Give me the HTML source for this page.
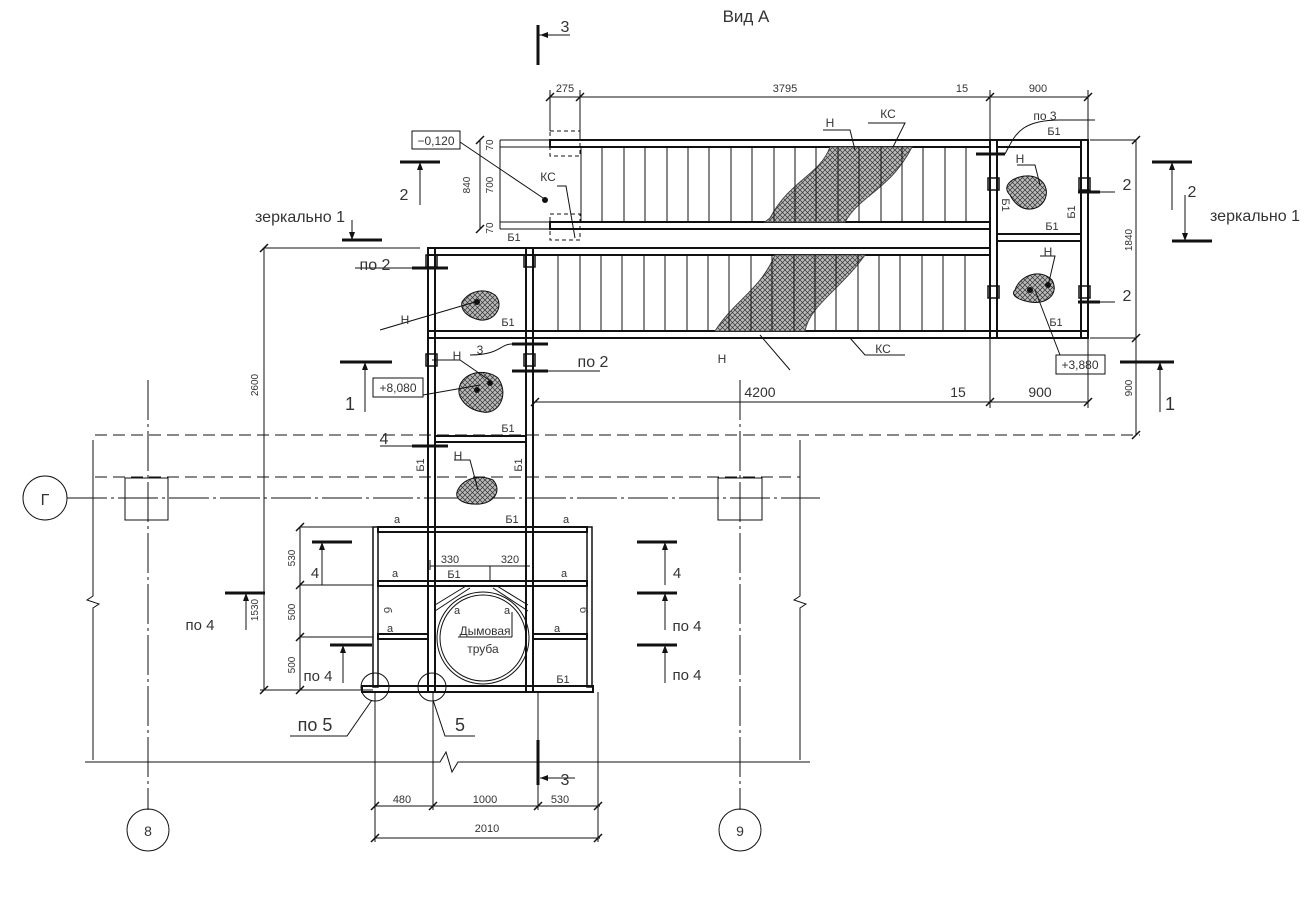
<!DOCTYPE html>
<html><head><meta charset="utf-8"><style>
html,body{margin:0;padding:0;background:#fff}
svg{display:block}
text{font-family:"Liberation Sans","DejaVu Sans",sans-serif;fill:#333}
</style></head><body>
<svg width="1310" height="909" viewBox="0 0 1310 909" xmlns="http://www.w3.org/2000/svg">
<defs>
<pattern id="h" width="5" height="5" patternUnits="userSpaceOnUse">
<rect width="5" height="5" fill="#bbb"/>
<path d="M0 0L5 5M5 0L0 5" stroke="#333" stroke-width="0.7"/>
</pattern>
</defs>
<g fill="none" stroke="#111" stroke-width="1">
<line x1="148" y1="380" x2="148" y2="810" stroke-dasharray="40 4 3 4"/>
<line x1="740" y1="380" x2="740" y2="810" stroke-dasharray="40 4 3 4"/>
<circle cx="148" cy="830" r="21"/><circle cx="740" cy="830" r="21"/>
<line x1="67" y1="498" x2="820" y2="498" stroke-dasharray="40 4 3 4"/>
<circle cx="45" cy="498" r="22"/>
<line x1="95" y1="435" x2="1140" y2="435" stroke-dasharray="12 6"/>
<line x1="95" y1="477" x2="800" y2="477" stroke-dasharray="12 6"/>
<rect x="125" y="478" width="43" height="42"/>
<rect x="718" y="478" width="44" height="42"/>
<polyline points="85,762 440,762 446,752 452,772 458,762 810,762"/>
<polyline points="93,440 93,596 87,600 99,604 93,608 93,760"/>
<polyline points="800,440 800,596 794,600 806,604 800,608 800,760"/>

<rect x="550" y="140" width="440" height="7" stroke-width="2"/>
<rect x="550" y="222" width="440" height="7" stroke-width="2"/>
<rect x="428" y="248" width="562" height="7" stroke-width="2"/>
<rect x="428" y="331" width="660" height="7" stroke-width="2"/>
<path d="M770 218 C790 180 820 175 830 147 L912 147 C890 190 860 195 845 222 L765 222Z" fill="url(#h)" stroke="#444"/>
<path d="M715 331 C735 300 760 290 775 255 L865 255 C840 290 810 305 805 331Z" fill="url(#h)" stroke="#444"/>
<g stroke-width="1">
<path d="M581 147V222M602 147V222M624 147V222M645 147V222M667 147V222M688 147V222M709 147V222M731 147V222M752 147V222M774 147V222M795 147V222M816 147V222M838 147V222M859 147V222M881 147V222M902 147V222M923 147V222M945 147V222M966 147V222"/>
<path d="M558 255V331M580 255V331M601 255V331M622 255V331M644 255V331M665 255V331M687 255V331M708 255V331M729 255V331M751 255V331M772 255V331M794 255V331M815 255V331M836 255V331M858 255V331M879 255V331M900 255V331M922 255V331M943 255V331M965 255V331"/>
</g>
<rect x="550" y="131" width="30" height="25" stroke-dasharray="4 3"/>
<rect x="550" y="214" width="30" height="26" stroke-dasharray="4 3"/>

<rect x="990" y="140" width="7" height="198" stroke-width="2"/>
<rect x="1081" y="140" width="7" height="198" stroke-width="2"/>
<rect x="997" y="140" width="84" height="7" stroke-width="2"/>
<rect x="997" y="234" width="84" height="7" stroke-width="2"/>
<rect x="988" y="178" width="11" height="12" stroke-width="1.5"/><rect x="988" y="286" width="11" height="12" stroke-width="1.5"/>
<rect x="1079" y="178" width="11" height="12" stroke-width="1.5"/><rect x="1079" y="286" width="11" height="12" stroke-width="1.5"/>
<path d="M1010 195 C1000 185 1015 175 1030 176 C1048 178 1052 198 1038 207 C1025 213 1015 205 1010 195Z" fill="url(#h)"/>
<path d="M1015 290 C1020 275 1040 268 1052 280 C1060 295 1045 305 1030 302 C1018 300 1010 295 1015 290Z" fill="url(#h)"/>

<rect x="428" y="248" width="7" height="444" stroke-width="2"/>
<rect x="526" y="248" width="7" height="444" stroke-width="2"/>
<rect x="435" y="436" width="91" height="6" stroke-width="2"/>
<rect x="426" y="255" width="11" height="12" stroke-width="1.5"/><rect x="524" y="255" width="11" height="12" stroke-width="1.5"/>
<rect x="426" y="354" width="11" height="12" stroke-width="1.5"/><rect x="524" y="354" width="11" height="12" stroke-width="1.5"/>
<path d="M462 302 C470 290 485 288 495 295 C505 305 495 322 480 320 C470 318 460 312 462 302Z" fill="url(#h)"/>
<path d="M460 385 C465 372 485 368 498 378 C510 395 498 415 483 412 C468 410 455 398 460 385Z" fill="url(#h)"/>
<path d="M457 492 C462 478 480 474 493 480 C502 490 495 502 480 504 C465 505 455 500 457 492Z" fill="url(#h)"/>

<rect x="373" y="527" width="5" height="160" stroke-width="1.5"/>
<rect x="587" y="527" width="5" height="160" stroke-width="1.5"/>
<rect x="378" y="527" width="209" height="5" stroke-width="2"/>
<rect x="378" y="581" width="209" height="5" stroke-width="2"/>
<rect x="378" y="634" width="50" height="5" stroke-width="2"/>
<rect x="533" y="634" width="54" height="5" stroke-width="2"/>
<rect x="362" y="686" width="231" height="6" stroke-width="2"/>
<circle cx="483" cy="638" r="46" stroke-width="1"/><circle cx="483" cy="638" r="43"/>
<path d="M435 611L470 588M528 611L493 588M435 605L466 586M528 605L497 586"/>
<path d="M458 637H512M512 637V612"/>
<circle cx="375" cy="687" r="14"/><circle cx="432" cy="687" r="14"/>
<polyline points="372,700 347,736 290,736"/><polyline points="433,700 445,736 475,736"/>

<path d="M550 97H990M550 90V131M580 90V140M990 90V140M990 97H1088M1088 90V140"/>
<path d="M535 402H1088M990 338V408M1088 338V408"/>
<path d="M264 248H420M264 248V690M260 690H373M300 527H373M300 527V690M300 585H373M300 637H373"/>
<path d="M1136 140H1090M1136 140V435M1136 338H1090"/>
<path d="M500 140H550M500 147H550M500 222H550M500 229H550M480 140V229M500 140V229"/>
<path d="M375 806H600M375 838H600M375 692V842M433 692V810M538 692V810M598 692V842"/>
<path d="M430 566H530M430 560V570M490 566V581"/>
<rect x="412" y="131" width="48" height="18"/>
<rect x="373" y="378" width="50" height="19"/>
<rect x="1056" y="355" width="49" height="19"/>
</g>
<g stroke="#111" stroke-width="1.5">
<path d="M546 101L554 93M576 101L584 93M986 101L994 93M1084 101L1092 93M531 406L539 398M986 406L994 398M1084 406L1092 398M260 252L268 244M260 694L268 686M296 531L304 523M296 589L304 581M296 641L304 633M296 694L304 686M1132 144L1140 136M1132 342L1140 334M1132 439L1140 431M371 810L379 802M429 810L437 802M534 810L542 802M594 810L602 802M371 842L379 834M594 842L602 834M476 144L484 136M476 233L484 225"/>
</g>
<g stroke="#111" stroke-width="3">
<path d="M538 25V65M538 740V785M400 162H440M342 240H382M340 362H392M1152 162H1192M1172 241H1212M1120 362H1174M312 542H352M225 593H265M330 645H372M637 542H677M637 593H677M637 645H677"/>
<path d="M412 268H448M976 154H1005M1078 192H1100M1078 302H1100M512 344H548M512 371H548M412 446H448"/>
</g>
<g stroke="#111" stroke-width="1" fill="none">
<path d="M538 35H570M420 162V205M352 240V220M365 362V412M1172 162V210M1185 241V195M1160 362V412M322 542V585M246 593V630M343 645V683M665 542V585M665 593V630M665 645V683M540 778H575"/>
<path d="M355 268H412M1100 192H1115M1100 302H1115M548 371H600M380 446H412M1005 154C1015 135 1020 120 1060 120H1095M512 344C500 344 500 355 470 355"/>
<path d="M460 142L546 200M557 186H566L575 238M380 330L475 302M432 360H460L492 382M423 395L480 385M454 460H470L478 490M868 123H905L893 147M823 130H850L855 150M790 370L760 335M905 355H865L850 338M1017 165H1035L1040 185M1040 256H1055L1048 286M1060 355L1035 290"/>
</g>
<g font-size="14" text-anchor="middle">
<text x="746" y="22" font-size="17">Вид А</text>
<text x="565" y="32" font-size="16">3</text>
<text x="565" y="785" font-size="16">3</text>
<text x="565" y="92" font-size="11">275</text><text x="785" y="92" font-size="11">3795</text><text x="962" y="92" font-size="11">15</text><text x="1038" y="92" font-size="11">900</text>
<text x="760" y="397">4200</text><text x="958" y="397">15</text><text x="1040" y="397">900</text>
<text x="436" y="145" font-size="12">−0,120</text>
<text x="398" y="392" font-size="12">+8,080</text>
<text x="1080" y="369" font-size="12">+3,880</text>
<text x="548" y="181" font-size="12">КС</text><text x="888" y="118" font-size="12">КС</text><text x="883" y="353" font-size="12">КС</text>
<text x="830" y="127" font-size="12">Н</text><text x="1020" y="163" font-size="12">Н</text><text x="1048" y="256" font-size="12">Н</text>
<text x="405" y="324" font-size="12">Н</text><text x="457" y="360" font-size="12">Н</text><text x="458" y="460" font-size="12">Н</text><text x="722" y="363" font-size="12">Н</text>
<text x="480" y="354" font-size="12">3</text><text x="1045" y="120" font-size="12">по 3</text>
<text x="593" y="367" font-size="16">по 2</text><text x="375" y="270" font-size="16">по 2</text>
<text x="384" y="444" font-size="16">4</text>
<text x="300" y="222" font-size="16">зеркально 1</text><text x="1255" y="221" font-size="16">зеркально 1</text>
<text x="1127" y="190" font-size="16">2</text><text x="1127" y="301" font-size="16">2</text>
<text x="1192" y="197" font-size="16">2</text><text x="404" y="200" font-size="16">2</text>
<text x="350" y="410" font-size="18">1</text><text x="1170" y="410" font-size="18">1</text>
<text x="45" y="505" font-size="16">Г</text>
<text x="148" y="836" font-size="14">8</text><text x="740" y="836" font-size="14">9</text>
<text x="514" y="241" font-size="11">Б1</text><text x="1054" y="135" font-size="11">Б1</text><text x="1052" y="230" font-size="11">Б1</text><text x="1056" y="326" font-size="11">Б1</text>
<text x="508" y="326" font-size="11">Б1</text><text x="508" y="432" font-size="11">Б1</text><text x="512" y="523" font-size="11">Б1</text><text x="563" y="683" font-size="11">Б1</text><text x="454" y="578" font-size="11">Б1</text>
<text x="397" y="523" font-size="11">a</text><text x="566" y="523" font-size="11">a</text><text x="395" y="577" font-size="11">a</text><text x="564" y="577" font-size="11">a</text>
<text x="390" y="632" font-size="11">a</text><text x="557" y="632" font-size="11">a</text><text x="457" y="614" font-size="11">a</text><text x="507" y="614" font-size="11">a</text>
<text x="485" y="635" font-size="12">Дымовая</text><text x="483" y="653" font-size="12">труба</text>
<text x="450" y="563" font-size="11">330</text><text x="510" y="563" font-size="11">320</text>
<text x="402" y="803" font-size="11">480</text><text x="485" y="803" font-size="11">1000</text><text x="560" y="803" font-size="11">530</text><text x="487" y="832" font-size="11">2010</text>
<text x="315" y="731" font-size="18">по 5</text><text x="460" y="731" font-size="18">5</text>
<text x="318" y="681" font-size="15">по 4</text><text x="200" y="630" font-size="15">по 4</text><text x="315" y="578" font-size="15">4</text>
<text x="687" y="631" font-size="15">по 4</text><text x="687" y="680" font-size="15">по 4</text><text x="677" y="578" font-size="15">4</text>
</g>
<g font-size="10" text-anchor="middle">
<text transform="translate(258,385) rotate(-90)">2600</text>
<text transform="translate(295,558) rotate(-90)">530</text>
<text transform="translate(295,612) rotate(-90)">500</text>
<text transform="translate(295,665) rotate(-90)">500</text>
<text transform="translate(258,610) rotate(-90)">1530</text>
<text transform="translate(1132,240) rotate(-90)">1840</text>
<text transform="translate(1132,388) rotate(-90)">900</text>
<text transform="translate(470,185) rotate(-90)">840</text>
<text transform="translate(493,185) rotate(-90)">700</text>
<text transform="translate(493,145) rotate(-90)">70</text>
<text transform="translate(493,228) rotate(-90)">70</text>
<text transform="translate(424,465) rotate(-90)" font-size="11">Б1</text>
<text transform="translate(522,465) rotate(-90)" font-size="11">Б1</text>
<text transform="translate(1075,212) rotate(-90)" font-size="11">Б1</text>
<text transform="translate(1002,205) rotate(90)" font-size="11">Б1</text>
<text transform="translate(384,610) rotate(90)" font-size="11">б</text>
<text transform="translate(580,610) rotate(90)" font-size="11">б</text>
</g>
<g fill="#111"><circle cx="545" cy="200" r="3"/><circle cx="477" cy="302" r="3"/><circle cx="490" cy="383" r="3"/><circle cx="477" cy="390" r="3"/><circle cx="1048" cy="285" r="3"/><circle cx="1030" cy="290" r="3"/>
<path d="M352 240l-3-8h6zM420 162l-3 8h6zM365 362l-3 8h6zM1185 241l-3-8h6zM1172 162l-3 8h6zM1160 362l-3 8h6zM322 542l-3 8h6zM246 593l-3 8h6zM343 645l-3 8h6zM665 542l-3 8h6zM665 593l-3 8h6zM665 645l-3 8h6zM540 35l8-3v6zM540 778l8-3v6z"/></g>
</svg>
</body></html>
